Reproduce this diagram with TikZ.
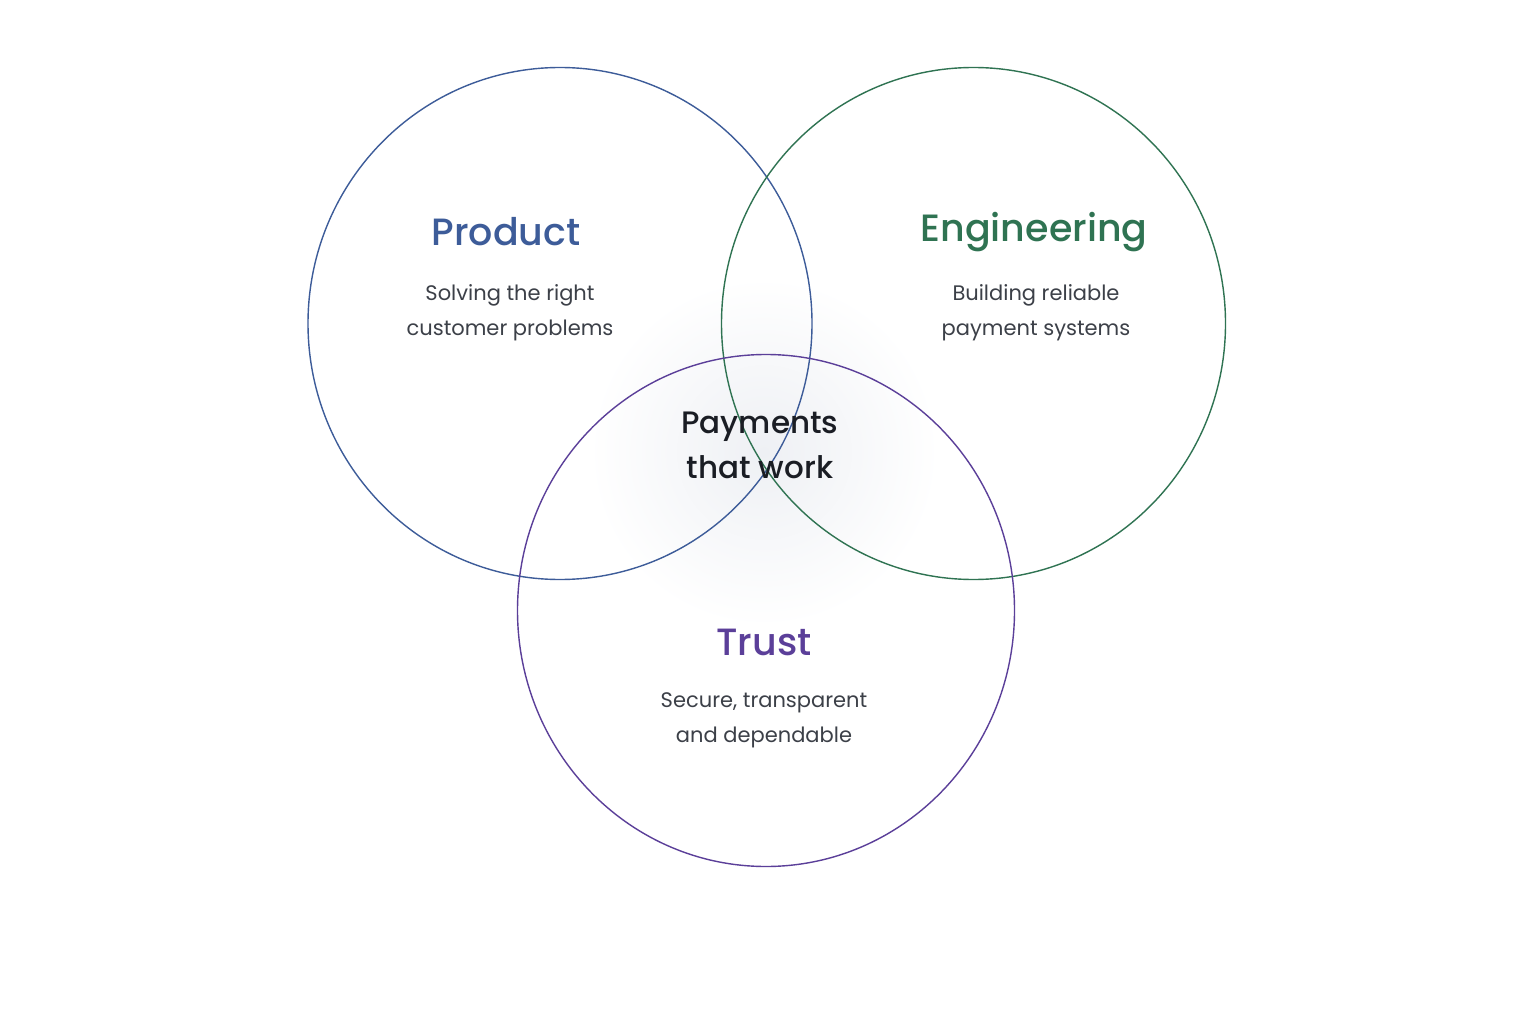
\documentclass[tikz,border=0pt]{standalone}
\usepackage{fontspec}
\usetikzlibrary{shapes.geometric}
\setmainfont{Poppins}[BoldFont={Poppins Medium}]
\definecolor{prodblue}{HTML}{3D5C99}
\definecolor{enggreen}{HTML}{2F7352}
\definecolor{trustpurple}{HTML}{5B3F99}
\definecolor{bodygray}{HTML}{3C4048}
\definecolor{centerink}{HTML}{1A1D24}
\definecolor{glow}{HTML}{EEF0F4}
\begin{document}
\begin{tikzpicture}[x=1pt,y=-1pt,
  ring/.style={draw,line width=1.4pt,ellipse,minimum width=504pt,minimum height=512pt,inner sep=0pt},
  title/.style={font=\fontsize{38}{44}\selectfont\bfseries,align=center,inner sep=0pt},
  body/.style={font=\fontsize{21}{35}\selectfont,text=bodygray,align=center,inner sep=0pt},
  core/.style={font=\fontsize{31}{45}\selectfont\bfseries,text=centerink,align=center,inner sep=0pt}]
\useasboundingbox[fill=white] (0,0) rectangle (1536,1024);
\shade[inner color=glow,outer color=white] (764,452) circle (175);
\node[ring,draw=prodblue] (product) at (560,323.5) {};
\node[ring,draw=enggreen] (engineering) at (973.5,323.5) {};
\node[ring,draw=trustpurple,minimum width=497pt] (trust) at (766,610.5) {};
\node[title,text=prodblue] (ptitle) at (506,232) {Product};
\node[body] (pbody) at (510,313) {Solving the right\\customer problems};
\node[title,text=enggreen] (etitle) at (1034,232) {Engineering};
\node[body] (ebody) at (1036,313) {Building reliable\\payment systems};
\node[title,text=trustpurple] (ttitle) at (764,642) {Trust};
\node[body] (tbody) at (764,720) {Secure, transparent\\and dependable};
\node[core] (center) at (760,445) {Payments\\that work};
\end{tikzpicture}
\end{document}
